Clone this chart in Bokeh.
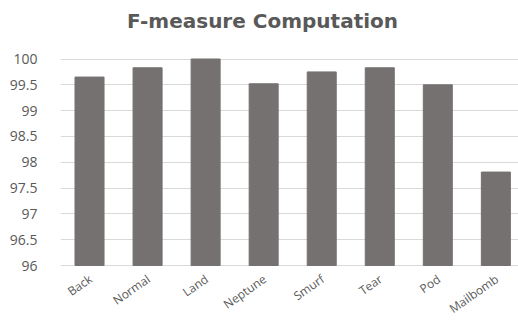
from bokeh.plotting import figure
from bokeh.models import Range1d, FixedTicker, Label
from bokeh.core.properties import value
from bokeh.embed import file_html
from bokeh.resources import INLINE
import math

categories = ["Back", "Normal", "Land", "Neptune", "Smurf", "Tear", "Pod", "Mailbomb"]
fmeasure = [99.65, 99.83, 100.0, 99.52, 99.75, 99.83, 99.50, 97.81]
y_ticks = [96, 96.5, 97, 97.5, 98, 98.5, 99, 99.5, 100]
title_text = "F-measure Computation"

xs = [i + 0.5 for i in range(len(categories))]

W, H = 518, 320
left = 60
x_end = 7.89
y_lo, y_hi = 96, 100
top_px, bottom_px = 58.5, 55      # space above 100 and below 96
ppu = (H - top_px - bottom_px) / (y_hi - y_lo)
y_start = y_lo - bottom_px / ppu
y_end = y_hi + top_px / ppu

p = figure(width=W, height=H, output_backend="svg", toolbar_location=None,
           x_range=Range1d(0, x_end), y_range=Range1d(y_start, y_end),
           min_border_left=left, min_border_right=0, min_border_top=0, min_border_bottom=0)

p.vbar(x=xs, top=fmeasure, bottom=y_lo, width=0.5, color="#767171")

p.text(x=xs, y=[y_lo] * len(xs), text=categories, angle=math.radians(35),
       text_align="right", text_baseline="middle", y_offset=12, x_offset=1,
       text_font=value("Open Sans"), text_font_size=value("12px"), text_color="#595959")

# title, centred on the whole image
ppx = (W - left) / x_end
title_x = (W / 2 + 3 - left) / ppx
title_y = y_end - 20 / ppu
p.add_layout(Label(x=title_x, y=title_y, text=title_text, text_align="center",
                   text_baseline="middle", text_font="DejaVu Sans", text_font_style="bold",
                   text_font_size="20px", text_color="#595959"))

p.outline_line_color = None
p.background_fill_color = "white"
p.border_fill_color = "white"

p.yaxis.ticker = FixedTicker(ticks=y_ticks)
p.yaxis.major_label_overrides = {t: (str(int(t)) if float(t).is_integer() else str(t)) for t in y_ticks}
p.yaxis.axis_line_color = None
p.yaxis.major_tick_line_color = None
p.yaxis.minor_tick_line_color = None
p.yaxis.major_label_text_font = "Open Sans"
p.yaxis.major_label_text_font_size = "14px"
p.yaxis.major_label_text_color = "#595959"
p.yaxis.major_label_standoff = 17

p.xaxis.visible = False

p.xgrid.grid_line_color = None
p.ygrid.ticker = FixedTicker(ticks=y_ticks)
p.ygrid.grid_line_color = "#d9d9d9"
p.ygrid.grid_line_width = 1

open("out.html", "w").write(file_html(p, INLINE))
